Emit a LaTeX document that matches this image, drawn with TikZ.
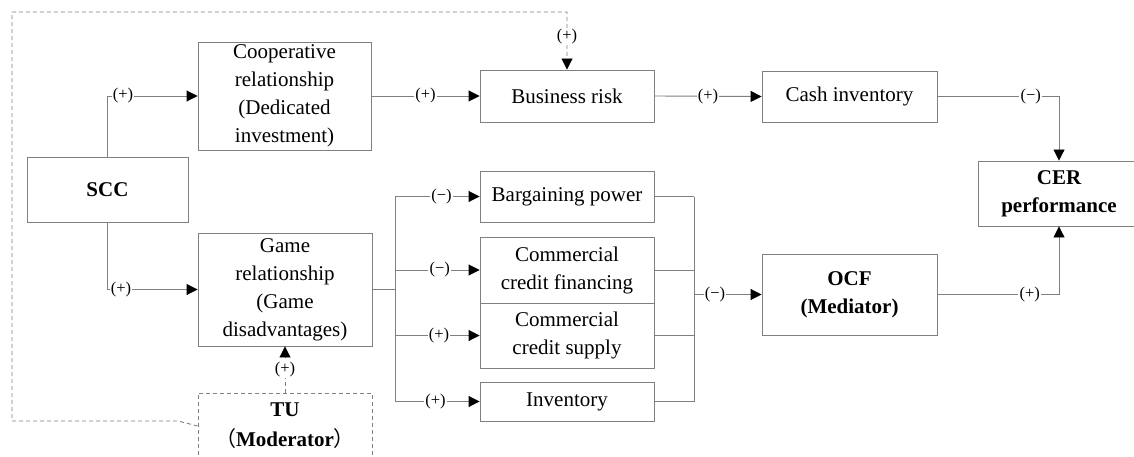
\documentclass[tikz,border=0pt]{standalone}
\usepackage{fontspec}
\setmainfont{Liberation Serif}
\newfontfamily\cjkfont{Noto Sans CJK SC}
\usetikzlibrary{arrows.meta,calc}
\definecolor{boxgray}{HTML}{808080}
\definecolor{linegray}{HTML}{808080}
\begin{document}
\begin{tikzpicture}[x=1pt,y=-1pt,
  box/.style={draw=boxgray, line width=0.9pt, inner sep=0pt, align=center, font=\fontsize{21}{28}\selectfont},
  lbl/.style={fill=white, inner sep=1.2pt, font=\fontsize{16.5}{17}\selectfont},
  conn/.style={draw=linegray, line width=0.9pt},
  arr/.style={conn, -{Triangle[black,length=11pt,width=11pt]}},
  dsh/.style={draw=linegray, line width=0.9pt, dash pattern=on 4pt off 3pt},
  darr/.style={dsh, -{Triangle[black,length=11pt,width=11pt]}},
]
\useasboundingbox (0,0) rectangle (1134,457);
\clip (0,0) rectangle (1134,457);
\fill[white] (0,0) rectangle (1134,457);

% boxes
\node[box, minimum width=173pt, minimum height=108pt] (coop) at (284.5,96) {Cooperative\\relationship\\(Dedicated\\investment)};
\node[box, minimum width=161pt, minimum height=65pt] (scc) at (107.5,189.5) {\bfseries SCC};
\node[box, minimum width=174pt, minimum height=113pt] (game) at (285,289.5) {Game\\relationship\\(Game\\disadvantages)};
\node[box, draw=none, minimum width=174pt, minimum height=77pt, dsh] (tubox) at (285,431.5) {};
\node[align=center, inner sep=0pt, font=\fontsize{21}{30}\selectfont\bfseries] (tu) at (285,426) {TU\\{\cjkfont\mdseries （}Moderator{\cjkfont\mdseries ）}};
\node[box, minimum width=174pt, minimum height=52pt] (br) at (567,96) {Business risk};
\node[box, minimum width=175pt, minimum height=51pt] (cash) at (849.5,96.5) {Cash inventory};
\node[box, minimum width=162pt, minimum height=65pt] (cer) at (1059,193.5) {\bfseries CER\\\bfseries performance};
\node[box, minimum width=175pt, minimum height=81pt] (ocf) at (849.5,294.5) {\bfseries OCF\\\bfseries (Mediator)};
\node[box, minimum width=174pt, minimum height=51pt] (barg) at (567,196.5) {Bargaining power};
\node[box, minimum width=174pt, minimum height=66pt] (ccf) at (567,270) {Commercial\\credit financing};
\node[box, minimum width=174pt, minimum height=65pt] (ccs) at (567,335.5) {Commercial\\credit supply};
\node[box, minimum width=174pt, minimum height=39pt] (inv) at (567,401.5) {Inventory};

% SCC connectors
\draw[arr] (scc.north) |- node[lbl, pos=0.586] {(+)} (coop.west);
\draw[arr] (scc.south) |- node[lbl, pos=0.575] {(+)} (game.west);

% top chain
\draw[arr] (coop.east) -- node[lbl] {(+)} (br.west);
\draw[arr] (br.east) -- node[lbl] {(+)} (cash.west);
\draw[arr] (cash.east) -| node[lbl, pos=0.384] {(−)} (cer.north);

% branch from game
\coordinate (bl) at (395,0);
\coordinate (mr) at (694,0);
\draw[conn] (game.east) -- (bl |- game.east);
\draw[conn] (bl |- barg.west) -- (bl |- inv.west);
\draw[arr] (bl |- barg.west) -- node[lbl, pos=0.55] {(−)} (barg.west);
\draw[arr] (bl |- ccf.west) -- node[lbl, pos=0.53] {(−)} (ccf.west);
\draw[arr] (bl |- ccs.west) -- node[lbl, pos=0.52] {(+)} (ccs.west);
\draw[arr] (bl |- inv.west) -- node[lbl, pos=0.48] {(+)} (inv.west);

% merge to OCF
\draw[conn] (barg.east) -- (mr |- barg.east);
\draw[conn] (ccf.east) -- (mr |- ccf.east);
\draw[conn] (ccs.east) -- (mr |- ccs.east);
\draw[conn] (inv.east) -- (mr |- inv.east);
\draw[conn] (mr |- barg.east) -- (mr |- inv.east);
\draw[arr] (mr |- ocf.west) -- node[lbl, pos=0.31] {(−)} (ocf.west);
\draw[arr] (ocf.east) -| node[lbl, pos=0.38] {(+)} (cer.south);

% moderator
\draw[darr] (tubox.north) -- node[lbl] {(+)} (game.south);
\coordinate (d1) at (178,421);
\coordinate (d2) at (12,421);
\coordinate (d3) at (12,12);
\draw[darr] ([yshift=5.5pt]tubox.west) -- (d1) -- (d2) -- (d3) -- (d3 -| br.north) -- node[lbl, pos=0.43] {(+)} (br.north);
\end{tikzpicture}
\end{document}
